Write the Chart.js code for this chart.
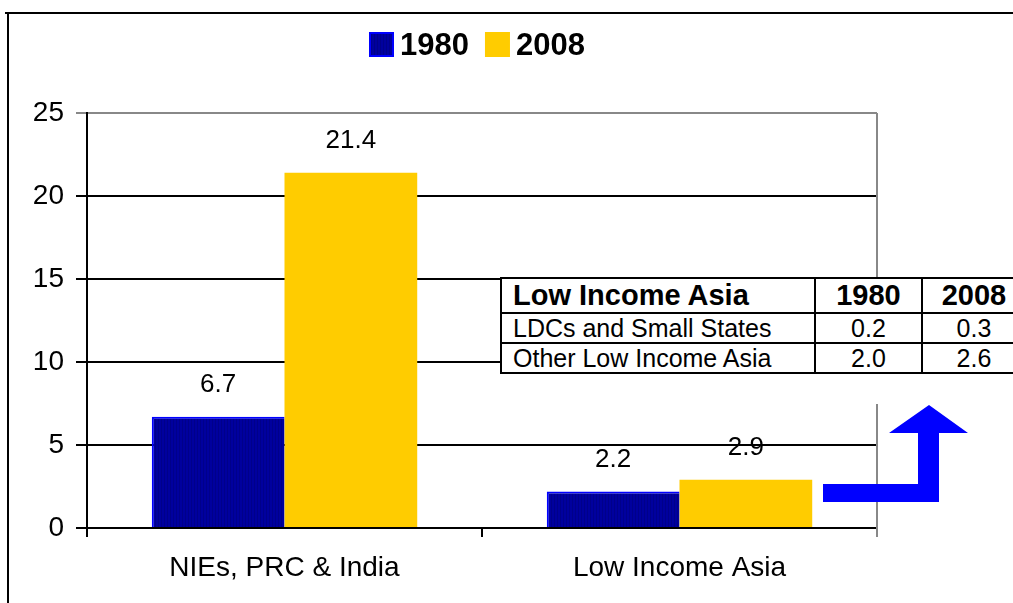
<!DOCTYPE html>
<html>
<head>
<meta charset="utf-8">
<script src="https://cdn.jsdelivr.net/npm/chart.js@4/dist/chart.umd.min.js"></script>
<style>
  html, body { margin:0; padding:0; background:#fff; overflow:hidden; }
  #wrap { position:relative; width:1013px; height:603px; overflow:hidden; }
  #chart { position:absolute; left:0; top:0; }
  #box { position:absolute; left:500px; top:277px; width:525px; height:127px; background:#fff; }
  #box table { border-collapse:collapse; width:525px; font-family:"Liberation Sans", Arial, sans-serif; color:#000; table-layout:fixed; }
  #box td { border:2px solid #000; padding:0; line-height:1; white-space:nowrap; }
  #box tr.head td { height:33px; font-weight:bold; font-size:29px; }
  #box tr.row td { height:28px; font-size:25px; }
  #box td.name { padding-left:11px; }
  #box td.num { text-align:center; }
</style>
</head>
<body>
<div id="wrap">
  <canvas id="chart" width="1013" height="603"></canvas>
  <div id="box"><table id="tbl"></table></div>
</div>
<script>
const categories = ["NIEs, PRC & India", "Low Income Asia"];
const years = ["1980", "2008"];
const v1980 = [6.7, 2.2];
const v2008 = [21.4, 2.9];
const yTicks = [0, 5, 10, 15, 20, 25];

const tableTitle = "Low Income Asia";
const tableRows = ["LDCs and Small States", "Other Low Income Asia"];
const table1980 = [0.2, 2.0];
const table2008 = [0.3, 2.6];

const FONT = '"Liberation Sans", Arial, sans-serif';
const C = { navy:"#00009a", blue:"#0000ff", yellow:"#ffcc00" };

// table overlay
(function buildTable(){
  const t = document.getElementById("tbl");
  let h = '<colgroup><col style="width:314px"><col style="width:107px"><col style="width:104px"></colgroup>';
  h += '<tr class="head"><td class="name">' + tableTitle + '</td><td class="num">' + years[0] + '</td><td class="num">' + years[1] + '</td></tr>';
  tableRows.forEach((r, i) => {
    h += '<tr class="row"><td class="name">' + r + '</td><td class="num">' + table1980[i].toFixed(1) + '</td><td class="num">' + table2008[i].toFixed(1) + '</td></tr>';
  });
  t.innerHTML = h;
})();

function stripes(){
  const c = document.createElement("canvas"); c.width = 3; c.height = 1;
  const g = c.getContext("2d");
  g.fillStyle = "#00009e"; g.fillRect(0,0,3,1);
  g.fillStyle = "#00008a"; g.fillRect(2,0,1,1);
  return g.createPattern(c, "repeat");
}
const navyFill = stripes();

const framePlugin = {
  id:"frame",
  beforeDraw(chart){
    const g = chart.ctx;
    g.save();
    g.fillStyle = "#fff"; g.fillRect(0,0,chart.width,chart.height);
    g.strokeStyle = "#000"; g.lineWidth = 2;
    g.beginPath(); g.moveTo(5,13); g.lineTo(chart.width,13); g.moveTo(8,13); g.lineTo(8,chart.height); g.stroke();
    g.restore();
  },
  beforeDatasetsDraw(chart){
    const a = chart.chartArea, g = chart.ctx;
    g.save();
    g.strokeStyle = "#888"; g.lineWidth = 2;
    g.beginPath(); g.moveTo(a.right, a.top); g.lineTo(a.right, a.bottom + 9); g.stroke();
    g.restore();
  },
  afterDatasetsDraw(chart){
    const g = chart.ctx;
    g.save();
    g.font = "26px " + FONT; g.fillStyle = "#000"; g.textAlign = "center"; g.textBaseline = "middle";
    chart.data.datasets.forEach((ds, i) => {
      chart.getDatasetMeta(i).data.forEach((bar, j) => {
        g.fillText(ds.data[j].toFixed(1), bar.x, bar.y - 32);
      });
    });
    g.restore();
  },
  afterDraw(chart){
    const g = chart.ctx;
    g.save();
    // legend
    g.font = "bold 31px " + FONT; g.textBaseline = "alphabetic";
    let x = 369;
    chart.data.datasets.forEach((ds) => {
      if (ds.legendFill === "navy") {
        g.fillStyle = navyFill; g.fillRect(x, 32, 25, 25);
        g.strokeStyle = C.blue; g.lineWidth = 2; g.strokeRect(x+1, 33, 23, 23);
      } else {
        g.fillStyle = ds.backgroundColor; g.fillRect(x, 32, 25, 25);
      }
      g.fillStyle = "#000";
      g.fillText(ds.label, x + 31, 55);
      x += 31 + g.measureText(ds.label).width + 16;
    });
    // arrow
    g.fillStyle = C.blue;
    g.beginPath();
    g.moveTo(823,484); g.lineTo(918,484); g.lineTo(918,433); g.lineTo(889,433);
    g.lineTo(929,405); g.lineTo(968,433); g.lineTo(939,433); g.lineTo(939,502);
    g.lineTo(823,502); g.closePath(); g.fill();
    g.restore();
  }
};

new Chart(document.getElementById("chart"), {
  type:"bar",
  data:{
    labels:categories,
    datasets:[
      { label:years[0], data:v1980, backgroundColor:navyFill, legendFill:"navy",
        borderColor:C.blue, borderWidth:{top:2,left:2,right:0,bottom:0}, borderSkipped:false,
        categoryPercentage:0.672, barPercentage:1 },
      { label:years[1], data:v2008, backgroundColor:C.yellow, borderWidth:0,
        categoryPercentage:0.672, barPercentage:1 }
    ]
  },
  options:{
    responsive:false, animation:false, devicePixelRatio:1,
    layout:{ padding:{ top:113, right:136, left:0, bottom:0 } },
    plugins:{ legend:{display:false}, tooltip:{enabled:false} },
    scales:{
      x:{
        grid:{ offset:true, drawOnChartArea:false, drawTicks:true, tickLength:9, color:"#000", lineWidth:2 },
        border:{ display:true, color:"#000", width:2 },
        ticks:{ font:{ family:FONT, size:28 }, color:"#000", padding:14 },
        afterFit(s){ s.height = 75; }
      },
      y:{
        min:0, max:25,
        afterBuildTicks(s){ s.ticks = yTicks.map(v => ({value:v})); },
        grid:{ color:(c) => c.tick && c.tick.value === 25 ? "#888" : "#000", lineWidth:2, tickLength:11 },
        border:{ display:true, color:"#000", width:2 },
        ticks:{ font:{ family:FONT, size:28 }, color:"#000", padding:12 },
        afterFit(s){ s.width = 87; }
      }
    }
  },
  plugins:[framePlugin]
});
</script>
</body>
</html>
